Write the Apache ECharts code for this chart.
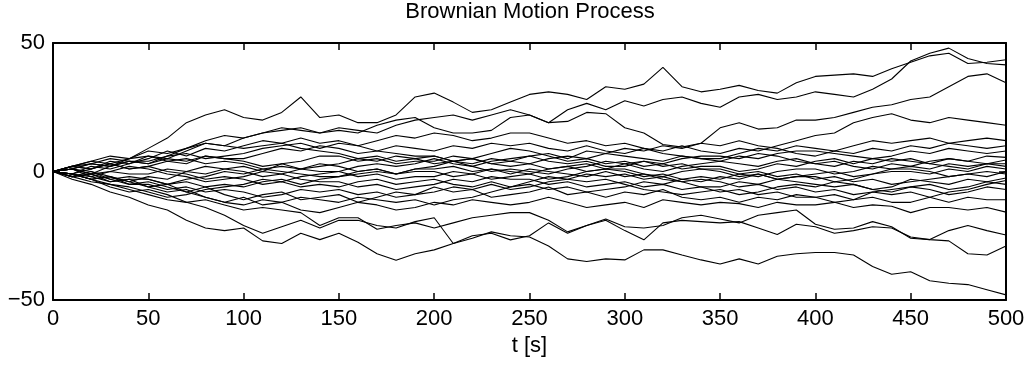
<!DOCTYPE html>
<html>
<head>
<meta charset="utf-8">
<script src="https://cdn.jsdelivr.net/npm/echarts@6/dist/echarts.min.js"></script>
<style>
html,body{margin:0;padding:0;background:#fff;}
#chart{width:1028px;height:369px;}
</style>
</head>
<body>
<div id="chart"></div>
<script>
// sample times (s)
const times = [0,10,20,30,40,50,60,70,80,90,100,110,120,130,140,150,160,170,180,190,200,210,220,230,240,250,260,270,280,290,300,310,320,330,340,350,360,370,380,390,400,410,420,430,440,450,460,470,480,490,500];
const xTicks = [0,50,100,150,200,250,300,350,400,450,500];
const yTicks = [-50,0,50];

// paths (value at each sample time)
const pathA = [0,1,3,2,5,9,13,19,22,24,21,20,23,29,21,22,19,19,22,29,30.5,27,23,24,27,30,31,30,28,33,32,34,40.5,33,31,32,33.5,31.5,30.5,34.5,37,37.5,38,37,40,42.5,45,46,42,42.5,43.5];
const pathB = [0,-1,2,1,3,6,5,8,11,10,13,15,17,16,15,17,16,15,18,20,21,22,20,22,24,22,19,24,26.5,24,27.5,25.5,28,29,26.5,25,29,30,28,29,31,30,29,32,36,43,46,48,44,42,41.5];
const pathC = [0,1,-1,2,4,3,6,9,12,14,13,15,16,17,15,16,15,18,20,21,17,15,15,16,21,22,19,19.5,23,22.5,17,15,10.5,9.5,11,17,19,16.5,17,20,20,21,23,25,26,28,29,33,37,38,34.5];
const pathD = [0,2,1,4,3,5,8,6,9,8,10,12,11,13,11,12,10,12,14,13,15,14,12,13,15,15,13,11,12,10,11,9,8,10,8,7,9,8,10,12,14,15,19,21,22.5,20,19,21,20,19,18];
const pathE = [0,-1,1,3,1,2,4,3,6,5,5,7,9,8,10,9,7,8,10,9,8,10,9,11,10,11,9,8,10,8,7,9,7,6,5,5,7,9,8,10,9,8,10,12,11,12,13,11,12,13,12];
const pathV = [0,2,4,3,5,6,4,5,3,4,3,1,0,-1,-2,-2,0,1,-1,1,2,4,3,5,4,6,7,5,8,7,9,8,10,9,11,10,12,10,9,7,6,8,7,9,8,10,9,11,10,9,10];
const pathF = [0,-1,-3,-2,-4,-2,-3,0,-1,1,2,0,3,4,6,6,4,5,3,4,4,6,5,7,9,8,6,4,5,3,4,2,3,1,2,2,0,1,3,2,4,5,3,5,6,8,7,9,8,7,8];
const pathG = [0,2,4,6,5,8,7,9,11,10,9,10,11,9,8,7,5,6,4,5,3,4,2,4,5,6,4,3,4,2,2,4,3,5,6,6,5,7,6,4,3,2,4,3,5,4,3,5,4,6,5.5];
const pathH = [0,1,-1,0,2,1,-1,-2,-4,-3,-2,0,-1,1,2,3,5,4,6,5,6,4,5,3,2,3,1,2,0,1,0,-2,-1,-3,-2,-3,-1,-2,0,1,1,-1,0,2,1,2,1,3,2,3,4.5];
const pathT = [0,2,3,5,4,4,6,7,5,6,7,9,10,11,9,11,10,8,7,6,6,4,5,3,4,3,5,6,5,7,6,5,4,6,5,4,6,5,7,8,8,7,6,5,4,5,3,2,1,3,2];
const pathI = [0,-2,-1,-3,-2,-3,-5,-4,-6,-5,-6,-4,-3,-5,-3,-2,-1,0,-1,1,1,2,0,1,-1,1,0,-1,-2,0,-2,-1,-2,0,1,0,-2,-1,-3,-2,-2,-4,-3,-1,0,0,-1,1,0,2,1];
const pathJ = [0,1,3,2,4,3,5,4,6,5,4,2,3,1,0,0,-2,-1,-3,-2,-2,0,-1,1,0,-1,1,2,3,1,3,4,2,3,1,1,-1,0,-2,-1,-3,-2,-4,-3,-5,-4,-3,-2,-1,-2,0];
const pathK = [0,-1,-2,0,-1,-1,1,0,2,1,0,-2,-1,-3,-4,-4,-6,-5,-7,-6,-5,-3,-4,-2,-3,-3,-5,-4,-6,-5,-4,-6,-5,-7,-6,-6,-4,-5,-3,-2,-1,0,-2,-1,1,1,0,-2,-1,0,-1];
const pathL = [0,2,1,3,1,2,0,-1,-3,-2,-3,-5,-4,-6,-5,-6,-4,-3,-5,-4,-3,-5,-6,-4,-6,-5,-7,-6,-8,-7,-6,-4,-5,-3,-4,-2,-3,-1,-3,-4,-5,-6,-5,-7,-6,-3,-4,-5,-3,-4,-2.5];
const pathU = [0,-2,-1,-4,-3,-3,-5,-3,-2,0,-1,1,2,1,3,2,0,1,-1,0,0,-2,-1,-3,-2,-1,-3,-2,0,1,1,-1,-3,-4,-6,-8,-7,-9,-8,-10,-10,-9,-11,-10,-12,-12,-10,-8,-7,-5,-3.5];
const pathM = [0,-1,-3,-2,-5,-5,-7,-6,-8,-7,-8,-10,-9,-7,-8,-7,-9,-8,-10,-9,-8,-6,-7,-5,-7,-6,-4,-3,-1,-2,-1,-3,-2,-4,-3,-4,-6,-5,-7,-6,-8,-7,-9,-8,-7,-6,-5,-7,-6,-4,-5];
const pathX = [0,1,0,-2,-4,-6,-5,-8,-10,-12,-13,-11,-12,-10,-11,-12,-10,-11,-12,-11,-13,-11,-10,-8,-6,-4,-2,-3,-4,-3,-5,-7,-8,-9,-8,-7,-9,-8,-6,-5,-6,-4,-5,-7,-8,-6,-7,-9,-8,-6,-7];
const pathY = [0,-1,-3,-5,-6,-8,-10,-9,-7,-6,-5,-3,-4,-2,-1,0,2,3,2,3,5,3,2,0,1,0,-1,1,2,4,3,1,0,2,3,4,3,2,4,5,3,4,2,1,3,2,4,5,4,3,3];
const pathN = [0,-2,0,-3,-5,-4,-6,-8,-6,-9,-11,-9,-8,-11,-10,-9,-12,-10,-8,-9,-6,-8,-7,-10,-9,-8,-6,-9,-8,-10,-8,-9,-7,-10,-11,-10,-12,-10,-11,-9,-10,-12,-11,-8,-9,-8,-10,-12,-10,-11,-11];
const pathP = [0,1,-2,-4,-3,-6,-8,-7,-10,-12,-10,-13,-12,-15,-16,-14,-12,-13,-15,-14,-12,-13,-11,-12,-13,-12,-10,-12,-14,-13,-12,-14,-11,-12,-13,-12,-12.5,-14,-12,-13,-13,-12,-14,-13,-13.5,-16,-14,-14,-15,-14,-15.8];
const pathQ = [0,-1,-3,-6,-8,-7,-9,-12,-11,-13,-15,-14,-15,-16,-21,-18,-18,-22.5,-21,-20,-22,-20,-18,-17,-16,-16,-19,-23.5,-21,-18.5,-21.5,-22,-21,-18,-17,-18.5,-20,-17,-16,-15,-20.5,-22.5,-22,-19.5,-21.5,-26,-26.5,-23,-21,-23,-24.7];
const pathR = [0,-2,-4,-5,-7,-9,-11,-12,-14,-17,-21,-24,-21.5,-19,-22,-19,-19,-21,-22,-19.5,-18,-28,-25,-24,-26.6,-25,-20,-24,-21,-19,-23,-26.6,-20,-19,-19.5,-20,-19.5,-22,-24.5,-20.5,-21.5,-24,-23,-21.5,-22,-25.5,-26.5,-27,-32,-32.5,-29];
const pathS = [0,-3,-5,-8,-10,-13,-15,-19,-22,-23,-22,-27,-28,-24,-26.5,-24,-27.5,-32,-34.5,-32,-30.5,-28,-26,-23.5,-25,-25.5,-29,-34,-35,-34,-34.4,-30.5,-30.5,-32.5,-34.4,-36,-34,-36,-33,-32,-31.5,-31.5,-32.5,-37,-40,-39,-42.5,-43.5,-44,-46,-48];

const paths = [pathA,pathB,pathC,pathD,pathE,pathV,pathF,pathG,pathH,pathT,pathI,pathJ,pathK,pathL,pathU,pathM,pathX,pathY,pathN,pathP,pathQ,pathR,pathS];

const FONT = '"Liberation Sans", Arial, Helvetica, sans-serif';
const fmt = v => (v < 0 ? '\u2212' + Math.abs(v) : String(v));

const axisLine = {show:true, onZero:false, lineStyle:{color:'#000', width:2}};
const tick = {show:true, inside:true, length:7, lineStyle:{color:'#000', width:1.5}};

const chart = echarts.init(document.getElementById('chart'), null, {renderer:'canvas'});
chart.setOption({
  animation:false,
  backgroundColor:'#fff',
  title:{
    text:'Brownian Motion Process',
    left:530, top:1, textAlign:'center', padding:0,
    textStyle:{fontFamily:FONT, fontSize:22, fontWeight:'normal', color:'#000'}
  },
  grid:{left:53, right:22, top:43, bottom:69, containLabel:false},
  xAxis:[
    {type:'value', position:'bottom', min:xTicks[0], max:xTicks[xTicks.length-1], interval:50,
     axisLine:axisLine, axisTick:tick, splitLine:{show:false},
     axisLabel:{color:'#000', fontFamily:FONT, fontSize:22, margin:8, showMinLabel:true, showMaxLabel:true},
     name:'t [s]', nameLocation:'middle', nameGap:34,
     nameTextStyle:{color:'#000', fontFamily:FONT, fontSize:22}},
    {type:'value', position:'top', min:xTicks[0], max:xTicks[xTicks.length-1], interval:50,
     axisLine:axisLine, axisTick:tick, splitLine:{show:false}, axisLabel:{show:false}}
  ],
  yAxis:[
    {type:'value', position:'left', min:yTicks[0], max:yTicks[yTicks.length-1], interval:50,
     axisLine:axisLine, axisTick:tick, splitLine:{show:false},
     axisLabel:{color:'#000', fontFamily:FONT, fontSize:22, margin:8, formatter:fmt}},
    {type:'value', position:'right', min:yTicks[0], max:yTicks[yTicks.length-1], interval:50,
     axisLine:axisLine, axisTick:tick, splitLine:{show:false}, axisLabel:{show:false}}
  ],
  series: paths.map((p, k) => ({
    type:'line', name:'path'+k, xAxisIndex:0, yAxisIndex:0,
    data: times.map((t, i) => [t, p[i]]),
    showSymbol:false, symbol:'none', silent:true,
    lineStyle:{color:'#000', width:1.1}
  }))
});
</script>
</body>
</html>
